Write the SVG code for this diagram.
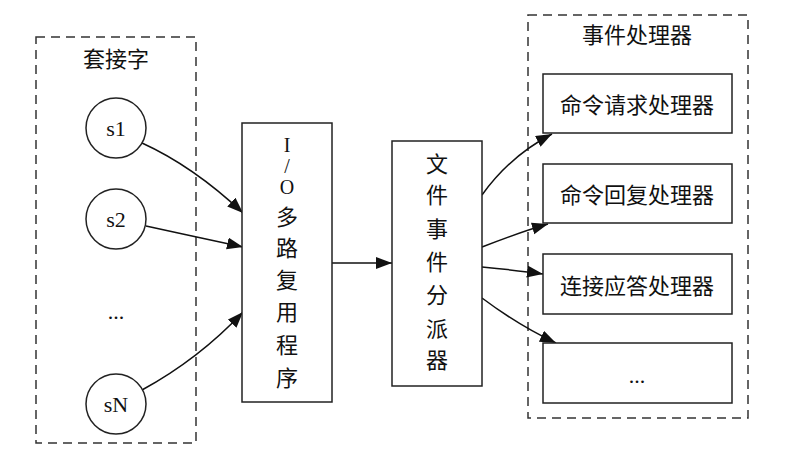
<svg xmlns="http://www.w3.org/2000/svg" width="799" height="451" viewBox="0 0 799 451">
<style>
.t{font-family:"Liberation Serif","Noto Sans CJK SC",serif;font-size:22px;fill:#111;text-anchor:middle;dominant-baseline:central}
.s{font-family:"Liberation Serif","Noto Sans CJK SC",serif;font-size:20px;fill:#111;text-anchor:middle;dominant-baseline:central}
.c{font-family:"Noto Sans CJK SC","Liberation Serif",sans-serif;font-size:22px;fill:#111;text-anchor:middle;dominant-baseline:central}
.cl{fill:none;stroke:#333;stroke-width:1.5;stroke-dasharray:9,6}
.n{fill:#fff;stroke:#222;stroke-width:1.5}
.e{fill:none;stroke:#111;stroke-width:1.5;marker-end:url(#ah)}
</style>
<defs>
<marker id="ah" markerUnits="userSpaceOnUse" markerWidth="17" markerHeight="13" refX="16" refY="6" orient="auto">
<path d="M0,0 L16,6 L0,12 z" fill="#111"/>
</marker>
</defs>
<rect width="799" height="451" fill="#fff"/>
<g id="cluster_sockets">
<rect class="cl" x="36" y="37" width="160" height="406"/>
<text class="c" x="116" y="57">套接字</text>
</g>
<g id="cluster_handlers">
<rect class="cl" x="528" y="15" width="220" height="403"/>
<text class="c" x="637" y="33">事件处理器</text>
</g>
<g id="connectors">
<path class="e" d="M142,143 C175,158 210,182 243,213"/>
<path class="e" d="M146,226 C178,233 212,240 243,247"/>
<path class="e" d="M142,390 C175,372 212,345 243,312"/>
<path class="e" d="M332,263 L392,263"/>
<path class="e" d="M482,195 C500,170 525,148 552,134"/>
<path class="e" d="M482,247 C505,238 527,230 548,224"/>
<path class="e" d="M482,267 C503,269 523,271 543,274"/>
<path class="e" d="M482,298 C502,313 528,330 556,343"/>
</g>
<g id="s1"><circle class="n" cx="116" cy="128" r="30"/><text class="t" x="116" y="128">s1</text></g>
<g id="s2"><circle class="n" cx="116" cy="219" r="30"/><text class="t" x="116" y="219">s2</text></g>
<g id="sdots"><text class="t" x="116" y="311">...</text></g>
<g id="sN"><circle class="n" cx="116" cy="404" r="30"/><text class="t" x="116" y="404">sN</text></g>
<g id="io">
<rect class="n" x="242" y="123" width="90" height="279"/>
<text class="s" x="287" y="145">I</text>
<text class="s" x="287" y="166">/</text>
<text class="s" x="287" y="187">O</text>
<text class="c" x="287" y="215">多</text>
<text class="c" x="287" y="246">路</text>
<text class="c" x="287" y="278">复</text>
<text class="c" x="287" y="310">用</text>
<text class="c" x="287" y="343">程</text>
<text class="c" x="287" y="376">序</text>
</g>
<g id="dispatcher">
<rect class="n" x="392" y="141" width="90" height="245"/>
<text class="c" x="437" y="162">文</text>
<text class="c" x="437" y="193">件</text>
<text class="c" x="437" y="227">事</text>
<text class="c" x="437" y="260">件</text>
<text class="c" x="437" y="293">分</text>
<text class="c" x="437" y="327">派</text>
<text class="c" x="437" y="358">器</text>
</g>
<g id="h1"><rect class="n" x="543" y="74" width="189" height="59"/><text class="c" x="637" y="103">命令请求处理器</text></g>
<g id="h2"><rect class="n" x="543" y="164" width="189" height="59"/><text class="c" x="637" y="193">命令回复处理器</text></g>
<g id="h3"><rect class="n" x="543" y="254" width="189" height="60"/><text class="c" x="637" y="284">连接应答处理器</text></g>
<g id="h4"><rect class="n" x="543" y="343" width="189" height="60"/><text class="t" x="637" y="375">...</text></g>
</svg>
